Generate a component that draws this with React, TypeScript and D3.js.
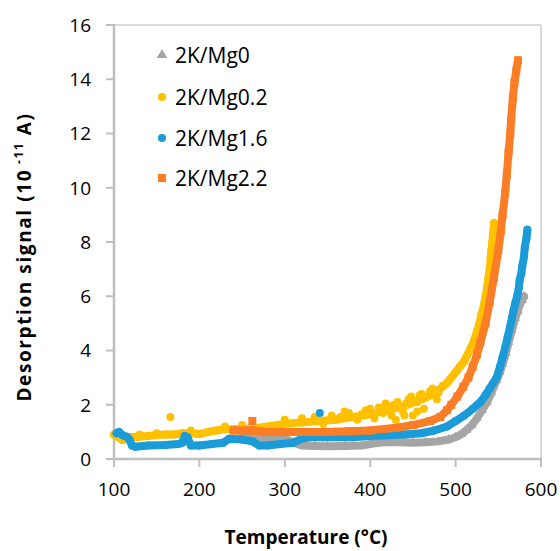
import React from "react";
import * as d3 from "d3";

// ---- data ----
const xTicks = [100, 200, 300, 400, 500, 600];
const yTicks = [0, 2, 4, 6, 8, 10, 12, 14, 16];
const seriesNames = ["2K/Mg0", "2K/Mg0.2", "2K/Mg1.6", "2K/Mg2.2"];

const grayT = [250, 270, 290, 300, 310, 320, 335, 350, 370, 390, 400, 410, 420, 435, 450, 465, 480, 492, 500, 507, 513, 519, 525, 531, 537, 542, 548, 552, 555, 559, 562, 566, 570, 573, 575, 578, 580];
const grayV = [0.8, 0.78, 0.76, 0.75, 0.6, 0.5, 0.48, 0.47, 0.48, 0.5, 0.55, 0.6, 0.62, 0.62, 0.6, 0.62, 0.65, 0.72, 0.8, 0.92, 1.07, 1.25, 1.5, 1.8, 2.1, 2.45, 2.9, 3.2, 3.5, 3.9, 4.3, 4.75, 5.2, 5.45, 5.7, 5.85, 6.0];

const yellowT = [100, 105, 110, 115, 120, 130, 140, 150, 160, 170, 180, 190, 200, 210, 220, 230, 240, 260, 280, 300, 320, 340, 360, 380, 400, 420, 440, 460, 475, 490, 500, 505, 510, 514, 518, 522, 525, 528, 530, 533, 535, 537, 538, 540, 541, 542, 543, 544, 545];
const yellowV = [0.9, 0.8, 0.7, 0.75, 0.8, 0.82, 0.85, 0.88, 0.9, 0.9, 0.95, 0.95, 0.92, 1.0, 1.05, 1.1, 1.1, 1.12, 1.2, 1.3, 1.35, 1.4, 1.45, 1.55, 1.65, 1.8, 1.95, 2.2, 2.4, 2.8, 3.2, 3.4, 3.6, 3.85, 4.1, 4.4, 4.7, 5.0, 5.3, 5.65, 6.0, 6.3, 6.6, 7.0, 7.4, 7.7, 8.0, 8.35, 8.7];
const yellowNoiseT = [130, 150, 166, 190, 230, 250, 300, 320, 335, 345, 355, 365, 370, 375, 385, 390, 395, 400, 405, 410, 415, 418, 422, 425, 428, 430, 432, 435, 438, 440, 442, 445, 448, 450, 455, 455, 458, 460, 463, 467, 470, 473, 478, 480, 485, 495];
const yellowNoiseV = [0.9, 0.95, 1.55, 1.05, 1.2, 1.25, 1.45, 1.5, 1.55, 1.3, 1.6, 1.55, 1.75, 1.7, 1.45, 1.65, 1.8, 1.85, 1.5, 1.9, 1.7, 2.05, 1.95, 1.6, 2.0, 1.45, 2.1, 1.9, 1.75, 1.6, 2.05, 2.2, 2.3, 1.6, 2.1, 1.75, 2.35, 2.4, 1.85, 2.3, 2.5, 2.6, 2.2, 2.45, 2.7, 3.0];

const blueT = [103, 106, 110, 115, 118, 121, 125, 140, 160, 175, 180, 183, 186, 190, 200, 215, 228, 235, 250, 262, 270, 280, 295, 310, 320, 330, 345, 360, 380, 400, 420, 440, 460, 475, 490, 500, 510, 520, 529, 535, 540, 544, 548, 552, 555, 558, 561, 564, 566, 568, 570, 572, 574, 575, 577, 578, 580, 581, 583, 584];
const blueV = [0.95, 1.0, 0.88, 0.82, 0.72, 0.5, 0.45, 0.5, 0.52, 0.55, 0.6, 0.85, 0.8, 0.5, 0.5, 0.55, 0.6, 0.75, 0.72, 0.65, 0.5, 0.5, 0.55, 0.6, 0.75, 0.8, 0.8, 0.8, 0.8, 0.85, 0.88, 0.9, 0.95, 1.05, 1.2, 1.4, 1.6, 1.85, 2.1, 2.35, 2.6, 2.8, 3.0, 3.4, 3.75, 4.1, 4.5, 4.9, 5.2, 5.5, 5.75, 6.0, 6.3, 6.6, 6.85, 7.1, 7.45, 7.8, 8.15, 8.45];
const blueNoiseT = [341];
const blueNoiseV = [1.7];

const orangeT = [240, 250, 262, 270, 280, 300, 325, 350, 375, 400, 430, 450, 470, 482, 490, 495, 502, 509, 515, 520, 525, 529, 535, 540, 545, 550, 553, 555, 558, 560, 562, 564, 565, 567, 569, 571, 573];
const orangeV = [1.05, 1.05, 1.05, 1.02, 1.0, 1.0, 1.0, 1.0, 1.02, 1.05, 1.15, 1.25, 1.4, 1.55, 1.8, 2.0, 2.3, 2.66, 3.0, 3.4, 3.85, 4.3, 5.0, 5.8, 6.7, 7.7, 8.4, 9.0, 9.8, 10.5, 11.3, 12.0, 12.5, 13.3, 13.9, 14.3, 14.7];
const orangeNoiseT = [262];
const orangeNoiseV = [1.4];

const COLORS = ["#A5A5A5", "#FFC000", "#1B9BD7", "#FB7D26"];
const FONT = "'Open Sans', sans-serif";

const x = d3.scaleLinear().domain([100, 600]).range([114, 541]);
const y = d3.scaleLinear().domain([0, 16]).range([459, 25]);

const line = d3
  .line<[number, number]>()
  .x((d) => x(d[0]))
  .y((d) => y(d[1]));

function zip(t: number[], v: number[]): [number, number][] {
  return t.map((tt, i) => [tt, v[i]]);
}

function Marker({ kind, cx, cy, color, s }: { kind: number; cx: number; cy: number; color: string; s: number }) {
  if (kind === 0) {
    const p = d3.symbol().type(d3.symbolTriangle).size(s * s * 0.6)();
    return <path d={p || ""} transform={`translate(${cx},${cy})`} fill={color} />;
  }
  if (kind === 3) {
    return <rect x={cx - s / 2} y={cy - s / 2} width={s} height={s} fill={color} />;
  }
  return <circle cx={cx} cy={cy} r={s / 2} fill={color} />;
}

function Series({ kind, t, v, nt, nv }: { kind: number; t: number[]; v: number[]; nt?: number[]; nv?: number[] }) {
  const color = COLORS[kind];
  const pts = zip(t, v);
  const noise = nt && nv ? zip(nt, nv) : [];
  return (
    <g>
      <path d={line(pts) || ""} fill="none" stroke={color} strokeWidth={8} strokeLinecap="round" strokeLinejoin="round" />
      {pts.concat(noise).map((d, i) => (
        <Marker key={i} kind={kind} cx={x(d[0])} cy={y(d[1])} color={color} s={8} />
      ))}
    </g>
  );
}

export default function App() {
  const legendY = [55, 97, 138, 178];
  return (
    <svg width={560} height={551} style={{ position: "absolute", left: 0, top: 0, background: "#fff" }}>
      <rect x={0} y={0} width={560} height={551} fill="#fff" />
      {/* plot frame */}
      <line x1={114} y1={25} x2={541} y2={25} stroke="#D9D9D9" strokeWidth={2} />
      <line x1={541} y1={25} x2={541} y2={459} stroke="#D9D9D9" strokeWidth={2} />
      {/* axes */}
      <line x1={114} y1={24} x2={114} y2={460} stroke="#BFBFBF" strokeWidth={2.5} />
      <line x1={113} y1={459} x2={542} y2={459} stroke="#BFBFBF" strokeWidth={2.5} />
      {yTicks.map((t) => (
        <g key={"y" + t}>
          <line x1={106} x2={114} y1={y(t)} y2={y(t)} stroke="#BFBFBF" strokeWidth={2} />
          <text x={91} y={y(t)} dy="0.36em" textAnchor="end" fontFamily={FONT} fontSize={19} fill="#000">
            {t}
          </text>
        </g>
      ))}
      {xTicks.map((t) => (
        <g key={"x" + t}>
          <line x1={x(t)} x2={x(t)} y1={459} y2={467} stroke="#BFBFBF" strokeWidth={2} />
          <text x={x(t)} y={496} textAnchor="middle" fontFamily={FONT} fontSize={19} fill="#000">
            {t}
          </text>
        </g>
      ))}
      {/* series */}
      <Series kind={0} t={grayT} v={grayV} />
      <Series kind={1} t={yellowT} v={yellowV} nt={yellowNoiseT} nv={yellowNoiseV} />
      <Series kind={2} t={blueT} v={blueV} nt={blueNoiseT} nv={blueNoiseV} />
      <Series kind={3} t={orangeT} v={orangeV} nt={orangeNoiseT} nv={orangeNoiseV} />
      {/* legend */}
      {seriesNames.map((n, i) => (
        <g key={n}>
          <Marker kind={i} cx={162} cy={legendY[i]} color={COLORS[i]} s={i === 0 ? 9 : 8} />
          <text x={175} y={legendY[i]} dy="0.36em" fontFamily={FONT} fontSize={21} fill="#000">
            {n}
          </text>
        </g>
      ))}
      {/* axis titles */}
      <text x={306} y={544} textAnchor="middle" fontFamily={FONT} fontWeight="bold" fontSize={19} fill="#000">
        Temperature (°C)
      </text>
      <text
        transform="translate(31,257) rotate(-90)"
        textAnchor="middle"
        fontFamily={FONT}
        fontWeight="bold"
        fontSize={19}
        letterSpacing={1.6}
        fill="#000"
      >
        Desorption signal (10
        <tspan fontSize={12} dy={-8}> -11</tspan>
        <tspan dy={8}> A)</tspan>
      </text>
    </svg>
  );
}
